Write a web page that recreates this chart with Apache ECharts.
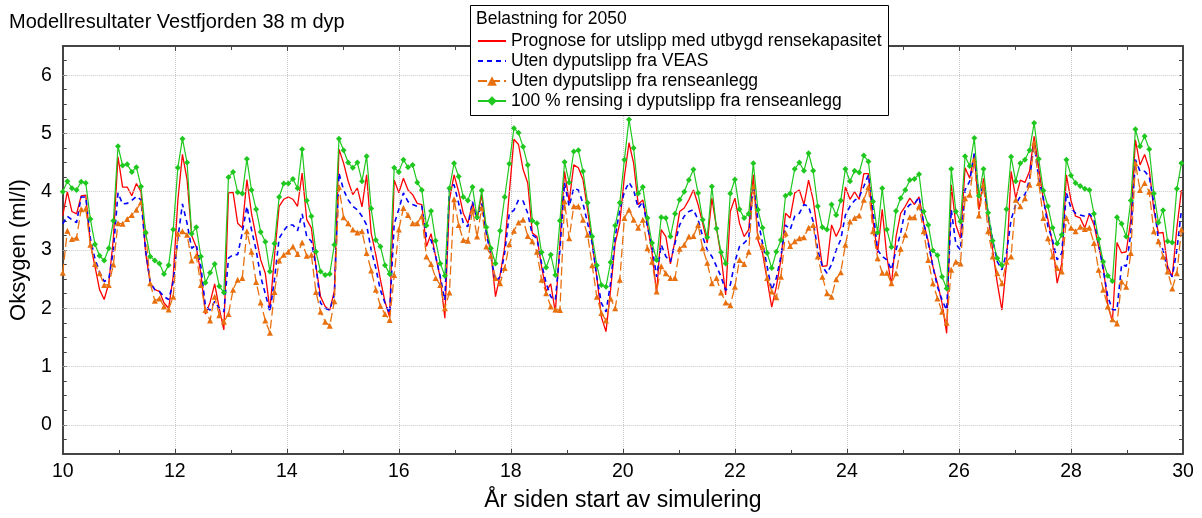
<!DOCTYPE html>
<html>
<head>
<meta charset="utf-8">
<script src="https://cdn.jsdelivr.net/npm/echarts@6/dist/echarts.min.js"></script>
<style>
html,body{margin:0;padding:0;background:#fff;}
#c{width:1202px;height:518px;}
</style>
</head>
<body>
<div id="c"></div>
<script>
// ---- data ----
const TITLE = 'Modellresultater Vestfjorden 38 m dyp';
const LEGEND_TITLE = 'Belastning for 2050';
const SERIES_NAMES = [
  'Prognose for utslipp med utbygd rensekapasitet',
  'Uten dyputslipp fra VEAS',
  'Uten dyputslipp fra renseanlegg',
  '100 % rensing i dyputslipp fra renseanlegg'
];
const YEAR_START = 10;      // first sample (years since start)
const STEP_DAYS = 30;       // model output every 30 days
const X_TICKS = [10, 12, 14, 16, 18, 20, 22, 24, 26, 28, 30];
const Y_TICKS = [0, 1, 2, 3, 4, 5, 6];

const RED = [
3.59,4.0,3.66,3.62,3.93,3.94,3.1,2.72,2.32,2.15,2.43,3.2,
4.6,4.08,4.08,3.93,4.14,4.0,2.95,2.43,2.32,2.29,2.09,2.0,
2.55,3.85,4.64,4.21,3.25,3.05,2.6,1.9,2.1,2.42,2.0,1.63,
3.98,3.99,3.46,3.38,4.21,3.63,3.23,2.83,2.6,1.97,2.9,3.75,
3.87,3.91,3.87,3.75,4.32,3.52,3.38,2.72,2.2,2.03,1.97,2.3,
4.73,4.49,4.18,3.95,4.06,3.74,4.29,3.29,2.92,2.49,2.11,1.85,
4.2,3.98,4.23,4.03,3.95,3.8,3.78,3.06,3.28,2.89,2.52,1.83,
3.86,4.29,4.0,3.63,3.46,3.8,3.52,3.95,3.32,2.95,2.2,2.57,
3.06,3.98,4.9,4.81,4.38,4.15,3.29,3.23,2.72,2.29,2.42,1.93,
3.12,4.35,3.83,4.46,4.41,4.21,3.69,3.12,2.54,1.85,1.6,2.32,
3.12,3.46,4.26,4.84,4.49,3.78,3.86,3.43,2.95,2.26,3.35,3.23,
2.76,3.17,3.66,3.72,3.86,4.03,3.78,3.46,3.12,3.89,3.38,2.89,
2.23,3.66,3.89,3.46,3.23,3.35,4.29,3.17,2.95,2.49,2.02,2.37,
2.83,3.63,3.55,3.98,4.03,3.78,4.2,3.86,3.29,2.72,2.73,3.43,
3.23,3.4,4.08,3.87,4.0,3.87,4.31,4.31,3.49,2.95,3.7,2.89,
2.4,3.23,3.63,3.75,3.89,3.78,3.91,3.46,3.15,2.72,2.43,2.09,
1.57,4.12,3.43,3.2,4.41,4.23,4.64,3.69,4.23,3.58,3.0,2.43,
1.97,2.77,4.35,3.89,4.2,4.16,4.35,4.95,4.41,3.86,3.52,3.12,
2.43,2.77,4.29,3.85,3.58,3.55,3.38,3.62,3.43,3.06,2.72,2.06,
1.77,3.13,2.95,2.97,3.52,4.89,4.46,4.64,4.39,3.69,3.29,3.3,
2.72,2.54,3.38,4.03
];
const BLUE = [
3.45,3.58,3.52,3.47,3.91,3.91,3.2,2.85,2.62,2.46,2.5,3.0,
3.98,3.79,3.8,3.85,3.92,3.86,3.0,2.45,2.32,2.29,2.2,2.15,
2.45,3.2,3.79,3.46,3.03,3.09,2.72,2.03,1.97,2.12,2.0,1.94,
2.86,2.92,2.92,3.3,3.75,3.35,3.0,2.54,2.25,1.94,2.5,3.2,
3.33,3.43,3.43,3.33,3.62,3.23,3.15,2.72,2.09,2.0,1.97,2.23,
4.32,4.03,3.86,3.75,3.69,3.58,3.43,3.0,2.69,2.31,2.09,1.91,
3.45,3.7,3.98,3.83,3.78,3.75,3.75,3.23,3.17,2.89,2.54,2.14,
4.09,4.12,3.8,3.46,3.4,3.83,3.52,3.8,3.29,2.89,2.46,2.54,
2.95,3.63,3.68,3.86,3.84,3.63,3.26,3.2,2.77,2.43,2.2,2.14,
3.0,4.15,3.75,4.06,4.03,3.8,3.46,3.12,2.54,2.09,1.94,2.43,
3.23,3.69,4.0,4.16,4.03,3.72,3.83,3.4,3.06,2.54,3.09,2.89,
2.8,3.12,3.43,3.58,3.66,3.69,3.52,3.23,3.0,2.89,2.72,2.54,
2.31,2.4,2.8,3.06,3.12,3.2,4.12,3.52,3.12,2.72,2.31,2.52,
2.89,3.43,3.35,3.58,3.63,3.78,3.75,3.49,3.0,2.72,2.6,2.75,
3.0,3.18,3.6,3.75,3.85,3.91,4.09,4.29,3.69,3.0,2.89,2.83,
2.66,3.0,3.29,3.69,3.78,3.79,3.91,3.46,3.12,2.72,2.37,2.14,
1.97,3.69,3.1,3.0,4.03,4.18,4.66,3.92,4.09,3.63,3.17,2.8,
2.66,2.95,3.52,3.78,3.92,3.95,4.21,4.84,4.21,3.89,3.4,3.17,
2.83,2.95,3.98,3.72,3.63,3.6,3.58,3.62,3.52,3.12,2.66,2.2,
1.98,1.97,2.75,2.72,3.29,4.55,4.35,4.35,4.26,3.8,3.17,3.0,
2.66,2.54,3.0,3.69
];
const ORANGE = [
2.61,3.33,3.19,3.21,3.7,3.71,3.09,2.76,2.6,2.4,2.4,2.75,
3.46,3.45,3.53,3.6,3.69,3.82,3.32,2.43,2.13,2.17,2.03,1.98,
2.2,3.28,3.32,3.26,2.82,2.9,2.4,1.97,1.79,2.2,1.88,1.77,
1.9,2.32,2.49,2.52,3.32,2.97,2.45,2.1,1.79,1.58,2.28,2.82,
2.92,2.97,3.06,2.93,3.13,2.9,2.92,2.28,1.94,1.77,1.7,2.12,
4.08,3.56,3.46,3.35,3.3,3.32,2.95,2.65,2.32,2.04,1.9,1.8,
2.57,3.35,3.72,3.6,3.46,3.46,3.58,2.89,2.76,2.52,2.4,2.0,
2.27,3.87,3.43,3.17,3.16,3.69,3.23,3.72,3.06,2.9,2.52,2.43,
2.69,3.1,3.33,3.47,3.52,3.24,3.15,2.97,2.49,2.26,2.03,1.98,
1.97,3.83,3.2,3.75,3.75,3.52,3.26,2.74,2.2,1.92,1.79,2.17,
2.0,2.49,3.55,3.69,3.52,3.38,3.52,3.03,2.8,2.29,2.72,2.6,
2.52,2.52,3.02,3.09,3.23,3.24,3.43,3.03,2.78,2.43,2.52,2.27,
2.1,2.05,2.37,2.83,2.76,2.97,4.09,3.23,3.06,2.52,2.29,2.19,
2.54,3.29,3.07,3.15,3.2,3.22,3.38,3.43,2.89,2.54,2.26,2.2,
2.5,2.62,3.09,3.49,3.55,3.59,3.86,4.08,3.32,2.86,2.61,2.61,
2.43,2.6,3.02,3.26,3.56,3.56,3.75,3.32,2.83,2.43,2.17,1.94,
1.75,2.66,2.8,2.77,3.89,3.95,4.55,3.59,4.12,3.32,2.89,2.6,
2.43,2.8,2.89,3.86,3.75,3.89,4.12,4.84,4.15,3.55,3.2,2.89,
2.69,2.63,3.55,3.38,3.32,3.4,3.36,3.38,3.12,2.66,2.32,2.03,
1.81,1.74,2.46,2.37,2.95,4.49,4.03,4.15,4.0,3.32,3.15,2.89,
2.63,2.34,2.6,3.35
];
const GREEN = [
4.0,4.18,4.06,4.03,4.17,4.15,3.53,3.1,2.9,2.82,3.03,3.5,
4.78,4.45,4.47,4.34,4.42,4.09,3.3,2.89,2.82,2.77,2.59,2.74,
3.35,4.41,4.91,4.5,3.28,3.39,2.89,2.44,2.61,2.76,2.38,2.27,
4.25,4.34,3.99,3.97,4.56,4.03,3.70,3.31,3.14,2.63,3.11,3.91,
4.14,4.14,4.22,4.06,4.73,3.85,3.58,2.97,2.63,2.57,2.59,3.09,
4.91,4.71,4.5,4.41,4.5,4.18,4.61,3.71,3.17,3.06,2.74,2.59,
4.41,4.34,4.55,4.42,4.46,4.16,4.03,3.42,3.67,3.16,2.77,2.56,
4.06,4.49,4.26,3.91,3.85,4.08,3.56,4.02,3.39,3.03,2.77,3.33,
3.91,4.48,5.09,5.01,4.77,4.46,3.5,3.46,2.96,2.7,2.92,2.57,
3.5,4.51,4.16,4.69,4.71,4.35,3.81,3.23,2.74,2.4,2.37,2.79,
3.42,3.81,4.55,5.24,4.75,3.97,4.08,3.55,3.12,2.83,3.56,3.55,
3.23,3.62,3.86,4.0,4.2,4.38,3.98,3.52,3.22,4.09,3.37,2.96,
2.77,3.97,4.21,3.7,3.55,3.62,4.49,3.69,3.38,2.95,2.69,2.97,
3.17,3.93,3.97,4.39,4.5,4.36,4.66,4.36,3.75,3.39,3.35,3.78,
3.6,3.85,4.39,4.18,4.36,4.33,4.62,4.52,3.83,3.3,4.06,3.35,
3.05,3.67,3.89,4.03,4.2,4.22,4.3,3.66,3.43,2.99,2.91,2.54,
2.34,4.39,3.66,3.49,4.61,4.44,4.92,3.93,4.39,3.64,3.16,2.86,
2.74,3.7,4.6,4.18,4.49,4.55,4.71,5.18,4.56,4.02,3.75,3.38,
3.11,3.26,4.55,4.28,4.15,4.1,4.05,4.03,3.62,3.19,2.8,2.56,
2.47,3.56,3.45,3.23,3.85,5.07,4.78,4.95,4.73,3.97,3.47,3.68,
3.15,3.13,4.05,4.49
];

// ---- build ----
const FONT = '"Liberation Sans", Arial, sans-serif';
function pairs(vals){ return vals.map((v,i)=>[YEAR_START + i*STEP_DAYS/365, v]); }

const chart = echarts.init(document.getElementById('c'), null, {renderer:'canvas'});
const axisLineStyle = {color:'#444', width:2};
const tickStyle = {color:'#444', width:1};

const option = {
  animation:false,
  backgroundColor:'#fff',
  textStyle:{fontFamily:FONT},
  grid:{left:58, right:19, top:46, bottom:64, containLabel:false},
  title:{text:TITLE, left:4, top:7, textStyle:{fontFamily:FONT, fontSize:20, fontWeight:'normal', color:'#000'}},
  graphic:[
    {type:'rect', z:50, shape:{x:470.5, y:5.5, width:418, height:110}, style:{fill:'#fff', stroke:'#000', lineWidth:1}},
    {type:'text', z:51, x:476, y:19, style:{text:LEGEND_TITLE, font:'17.5px "Liberation Sans", Arial, sans-serif', fill:'#000', verticalAlign:'middle', textVerticalAlign:'middle'}}
  ],
  legend:{
    z:60, orient:'vertical', left:477, top:31, padding:0, itemGap:0,
    itemWidth:28, itemHeight:12,
    data:[
      {name:SERIES_NAMES[0], itemStyle:{opacity:0}},
      {name:SERIES_NAMES[1], itemStyle:{opacity:0}},
      {name:SERIES_NAMES[2]},
      {name:SERIES_NAMES[3]}
    ],
    textStyle:{fontFamily:FONT, fontSize:17.5, color:'#000', lineHeight:20},
    selectedMode:false
  },
  xAxis:[
    {type:'value', min:X_TICKS[0], max:X_TICKS[X_TICKS.length-1], interval:2, position:'bottom',
     name:'År siden start av simulering', nameLocation:'middle', nameGap:35,
     nameTextStyle:{fontFamily:FONT, fontSize:23, color:'#000'},
     axisLine:{show:true, onZero:false, lineStyle:axisLineStyle},
     axisTick:{show:true, inside:true, length:5, lineStyle:tickStyle},
     minorTick:{show:true, splitNumber:2, length:4, lineStyle:tickStyle},
     axisLabel:{fontFamily:FONT, fontSize:19.5, color:'#000', margin:8},
     splitLine:{show:true, lineStyle:{color:'#c8c8c8', type:'dotted', width:1}}},
    {type:'value', min:X_TICKS[0], max:X_TICKS[X_TICKS.length-1], interval:2, position:'top',
     axisLine:{show:true, onZero:false, lineStyle:axisLineStyle},
     axisTick:{show:true, inside:true, length:5, lineStyle:tickStyle},
     minorTick:{show:true, splitNumber:2, length:4, lineStyle:tickStyle},
     axisLabel:{show:false}, splitLine:{show:false}}
  ],
  yAxis:[
    {type:'value', min:-0.5, max:6.5, interval:0.25, position:'left',
     name:'Oksygen (ml/l)', nameLocation:'middle', nameGap:29, nameRotate:90,
     nameTextStyle:{fontFamily:FONT, fontSize:22, color:'#000'},
     axisLine:{show:true, onZero:false, lineStyle:axisLineStyle},
     axisTick:{show:true, inside:true, length:4, lineStyle:tickStyle},
     axisLabel:{interval:0, fontFamily:FONT, fontSize:19.5, color:'#000', margin:11,
       formatter:v => (Y_TICKS.indexOf(v) >= 0 ? String(v) : '')},
     splitLine:{show:false}},
    {type:'value', min:-0.5, max:6.5, interval:0.25, position:'right',
     axisLine:{show:true, onZero:false, lineStyle:axisLineStyle},
     axisTick:{show:true, inside:true, length:4, lineStyle:tickStyle},
     axisLabel:{show:false}, splitLine:{show:false}}
  ],
  series:[
    {name:'grid', type:'line', data:[], z:1, silent:true,
     markLine:{silent:true, symbol:['none','none'], animation:false, label:{show:false},
       lineStyle:{color:'#c8c8c8', type:'dotted', width:1},
       emphasis:{disabled:true},
       data:Y_TICKS.map(v=>({yAxis:v}))}},
    {name:SERIES_NAMES[0], type:'line', data:pairs(RED), symbol:'none', z:3,
     lineStyle:{color:'#ff0000', width:1.3}, itemStyle:{color:'#ff0000'}, emphasis:{disabled:true}},
    {name:SERIES_NAMES[1], type:'line', data:pairs(BLUE), symbol:'none', z:4,
     lineStyle:{color:'#0000ff', width:1.6, type:[5,4]}, itemStyle:{color:'#0000ff'}, emphasis:{disabled:true}},
    {name:SERIES_NAMES[2], type:'line', data:pairs(ORANGE), symbol:'triangle', symbolSize:6, showSymbol:true, z:5,
     lineStyle:{color:'#e8700f', width:1.3, type:[9,4]}, itemStyle:{color:'#e8700f'}, emphasis:{disabled:true}},
    {name:SERIES_NAMES[3], type:'line', data:pairs(GREEN), symbol:'diamond', symbolSize:6, showSymbol:true, z:6,
     lineStyle:{color:'#1ec81e', width:1.2}, itemStyle:{color:'#1ec81e'}, emphasis:{disabled:true}}
  ]
};
chart.setOption(option);
</script>
</body>
</html>
